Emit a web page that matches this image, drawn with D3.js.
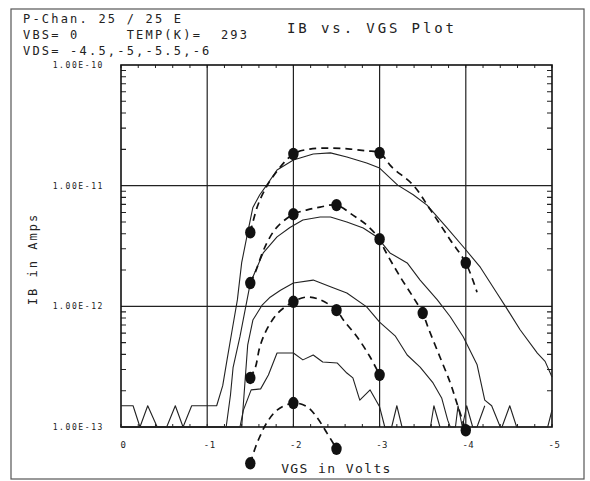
<!DOCTYPE html>
<html>
<head>
<meta charset="utf-8">
<script src="https://cdn.jsdelivr.net/npm/d3@7"></script>
<style>
  body { margin: 0; background: #fff; }
  text { font-family: "DejaVu Sans Mono", "Liberation Mono", monospace; fill: #222; }
</style>
</head>
<body>
<svg id="chart" width="590" height="481"></svg>
<script>
// header / labels
const headerLines = ["P-Chan. 25 / 25 E", "VBS= 0     TEMP(K)=  293", "VDS= -4.5,-5,-5.5,-6"];
const titleText = "IB vs. VGS Plot";
const xTicks = [0, -1, -2, -3, -4, -5];
const yTicks = [1e-10, 1e-11, 1e-12, 1e-13];

// measured curves [VGS, IB], one per VDS
const measured_6 = [[0,1.5e-13],[-0.14,1.5e-13],[-0.22,1e-13],[-0.31,1.5e-13],[-0.42,1e-13],[-0.53,1e-13],[-0.63,1.5e-13],[-0.72,1e-13],[-0.82,1.5e-13],[-1.11,1.5e-13],[-1.18,2.2e-13],[-1.23,3.6e-13],[-1.29,6.4e-13],[-1.35,1.13e-12],[-1.40,2.3e-12],[-1.47,4.1e-12],[-1.53,6.6e-12],[-1.61,8.4e-12],[-1.69,1.01e-11],[-1.81,1.35e-11],[-2.0,1.63e-11],[-2.23,1.83e-11],[-2.43,1.87e-11],[-2.62,1.73e-11],[-2.85,1.54e-11],[-3.0,1.40e-11],[-3.21,1.01e-11],[-3.39,8.4e-12],[-3.55,6.9e-12],[-3.78,4.5e-12],[-3.99,3.0e-12],[-4.17,2.1e-12],[-4.36,1.29e-12],[-4.46,1.0e-12],[-4.63,6.4e-13],[-4.83,4.1e-13],[-4.92,3.5e-13],[-5.0,2.6e-13]];
const measured_55 = [[0,1e-13],[-1.22,1e-13],[-1.27,1.84e-13],[-1.30,3.1e-13],[-1.38,5.6e-13],[-1.5,1.56e-12],[-1.65,2.77e-12],[-1.81,3.76e-12],[-1.96,4.5e-12],[-2.11,5.2e-12],[-2.31,5.5e-12],[-2.43,5.5e-12],[-2.62,5.0e-12],[-2.81,4.46e-12],[-2.97,3.76e-12],[-3.12,2.77e-12],[-3.32,2.29e-12],[-3.47,1.65e-12],[-3.67,1.13e-12],[-3.82,8.2e-13],[-3.97,5.6e-13],[-4.13,3.3e-13],[-4.22,1.67e-13],[-4.30,1.5e-13],[-4.40,1e-13],[-4.42,1e-13],[-4.51,1.5e-13],[-4.59,1e-13],[-4.95,1e-13],[-5.0,1.38e-13]];
const measured_5 = [[0,1e-13],[-1.40,1e-13],[-1.44,2.45e-13],[-1.47,4.8e-13],[-1.53,7.7e-13],[-1.64,1.03e-12],[-1.73,1.19e-12],[-1.85,1.36e-12],[-2.0,1.56e-12],[-2.23,1.65e-12],[-2.43,1.45e-12],[-2.62,1.29e-12],[-2.85,9.9e-13],[-3.0,7.4e-13],[-3.18,5.7e-13],[-3.32,3.95e-13],[-3.47,3.14e-13],[-3.62,2.32e-13],[-3.72,1.74e-13],[-3.79,1.14e-13],[-3.82,1e-13],[-3.88,1e-13],[-3.91,1.5e-13],[-3.96,1e-13],[-4.01,1.5e-13],[-4.08,1e-13],[-4.13,1e-13],[-4.22,1.5e-13]];
const measured_45 = [[0,1e-13],[-1.38,1e-13],[-1.42,1.38e-13],[-1.51,2.03e-13],[-1.62,2.07e-13],[-1.71,2.7e-13],[-1.81,4.1e-13],[-2.0,4.1e-13],[-2.11,3.6e-13],[-2.23,3.95e-13],[-2.34,3.46e-13],[-2.51,3.39e-13],[-2.62,2.8e-13],[-2.69,2.55e-13],[-2.77,1.67e-13],[-2.89,2.03e-13],[-3.0,1.47e-13],[-3.06,1e-13],[-3.14,1e-13],[-3.20,1.5e-13],[-3.26,1e-13],[-3.59,1e-13],[-3.63,1.5e-13],[-3.70,1e-13]];

// model curves (dashed) and their points
const model_6 = [[-1.5,4.1e-12],[-1.58,6.65e-12],[-1.65,8.7e-12],[-1.76,1.18e-11],[-2,1.83e-11],[-2.19,2.01e-11],[-2.43,2.05e-11],[-2.66,2.01e-11],[-2.85,1.94e-11],[-3,1.87e-11],[-3.14,1.43e-11],[-3.39,1.01e-11],[-3.59,6.3e-12],[-3.82,3.55e-12],[-4,2.29e-12],[-4.13,1.31e-12]];
const model_55 = [[-1.5,1.56e-12],[-1.56,1.93e-12],[-1.64,2.77e-12],[-1.71,3.55e-12],[-1.81,4.54e-12],[-2,5.8e-12],[-2.16,6.3e-12],[-2.31,6.65e-12],[-2.5,6.9e-12],[-2.69,5.7e-12],[-2.85,4.72e-12],[-3,3.6e-12],[-3.06,2.93e-12],[-3.24,1.75e-12],[-3.39,1.19e-12],[-3.5,8.8e-13],[-3.56,6.75e-13],[-3.70,3.8e-13],[-3.82,2.32e-13],[-3.91,1.47e-13],[-4,9.4e-14]];
const model_5 = [[-1.5,2.55e-13],[-1.56,3.14e-13],[-1.61,4.6e-13],[-1.69,6.4e-13],[-1.82,8.8e-13],[-2,1.09e-12],[-2.14,1.19e-12],[-2.29,1.15e-12],[-2.5,9.3e-13],[-2.58,7.7e-13],[-2.74,5.57e-13],[-2.89,3.8e-13],[-3,2.7e-13]];
const model_45 = [[-1.5,5.0e-14],[-1.56,6.8e-14],[-1.61,8.3e-14],[-1.69,1.08e-13],[-1.81,1.38e-13],[-2,1.58e-13],[-2.16,1.47e-13],[-2.27,1.21e-13],[-2.39,8.9e-14],[-2.5,6.6e-14]];

const dots_6 = [[-1.5,4.1e-12],[-2,1.83e-11],[-3,1.87e-11],[-4,2.29e-12]];
const dots_55 = [[-1.5,1.56e-12],[-2,5.8e-12],[-2.5,6.9e-12],[-3,3.6e-12],[-3.5,8.8e-13],[-4,9.4e-14]];
const dots_5 = [[-1.5,2.55e-13],[-2,1.09e-12],[-2.5,9.3e-13],[-3,2.7e-13]];
const dots_45 = [[-1.5,5.0e-14],[-2,1.58e-13],[-2.5,6.6e-14]];

const margin = { top: 65, left: 121 };
const width = 431, height = 362;

const svg = d3.select("#chart");

// outer frame
svg.append("rect")
  .attr("x", 11).attr("y", 9).attr("width", 573).attr("height", 470)
  .attr("fill", "none").attr("stroke", "#555").attr("stroke-width", 1.2);

const g = svg.append("g").attr("transform", `translate(${margin.left},${margin.top})`);

const x = d3.scaleLinear().domain([0, -5]).range([0, width]);
const y = d3.scaleLog().domain([1e-10, 1e-13]).range([0, height]);

// grid
g.selectAll(".vgrid").data(xTicks.slice(1, -1)).enter().append("line")
  .attr("x1", d => x(d)).attr("x2", d => x(d)).attr("y1", 0).attr("y2", height)
  .attr("stroke", "#222").attr("stroke-width", 1.2);
g.selectAll(".hgrid").data(yTicks.slice(1, -1)).enter().append("line")
  .attr("x1", 0).attr("x2", width).attr("y1", d => y(d)).attr("y2", d => y(d))
  .attr("stroke", "#222").attr("stroke-width", 1.4);

// minor ticks
const minorY = [];
[-13, -12, -11].forEach(p => { for (let k = 2; k <= 9; k++) minorY.push(k * Math.pow(10, p)); });
const minorX = d3.range(0, 26).map(i => -i * 0.2);

g.selectAll(".my").data(minorY).enter().append("path")
  .attr("d", d => `M0,${y(d)}h5M${width},${y(d)}h-5`)
  .attr("stroke", "#222").attr("stroke-width", 1.1);
g.selectAll(".mx").data(minorX).enter().append("path")
  .attr("d", d => `M${x(d)},0v3M${x(d)},${height}v-3`)
  .attr("stroke", "#222").attr("stroke-width", 1);

// frame of plot
g.append("rect").attr("width", width).attr("height", height)
  .attr("fill", "none").attr("stroke", "#111").attr("stroke-width", 1.6);

// axes labels
const yAxis = g.append("g")
  .call(d3.axisLeft(y).tickValues(yTicks).tickSize(0).tickPadding(17)
    .tickFormat(d => "1.00E" + Math.round(Math.log10(d))));
yAxis.select(".domain").remove();
yAxis.selectAll("text").style("font-size", "8px").style("letter-spacing", "1.6px")
  .style("font-family", "'DejaVu Sans Mono', monospace").attr("fill", "#222");

const xAxis = g.append("g").attr("transform", `translate(0,${height})`)
  .call(d3.axisBottom(x).tickValues(xTicks).tickSize(0).tickPadding(15)
    .tickFormat(d => String(d)));
xAxis.select(".domain").remove();
xAxis.selectAll("text").style("font-size", "9px").style("letter-spacing", "0.5px")
  .style("font-family", "'DejaVu Sans Mono', monospace").attr("fill", "#222")
  .attr("dx", "2px");

// curves
const line = d3.line().x(d => x(d[0])).y(d => y(d[1]));
const smooth = d3.line().x(d => x(d[0])).y(d => y(d[1])).curve(d3.curveCatmullRom);

[measured_6, measured_55, measured_5, measured_45].forEach(s => {
  g.append("path").datum(s).attr("d", line)
    .attr("fill", "none").attr("stroke", "#222").attr("stroke-width", 1.1)
    .attr("stroke-linejoin", "round");
});
[model_6, model_55, model_5, model_45].forEach(s => {
  g.append("path").datum(s).attr("d", smooth)
    .attr("fill", "none").attr("stroke", "#111").attr("stroke-width", 1.7)
    .attr("stroke-dasharray", "7,5");
});
[dots_6, dots_55, dots_5, dots_45].forEach(s => {
  g.selectAll(null).data(s).enter().append("ellipse")
    .attr("cx", d => x(d[0])).attr("cy", d => y(d[1]))
    .attr("rx", 5.2).attr("ry", 6.2).attr("fill", "#111");
});

// texts
svg.selectAll(".hdr").data(headerLines).enter().append("text")
  .attr("x", 23).attr("y", (d, i) => 23 + i * 16)
  .attr("xml:space", "preserve").style("white-space", "pre")
  .style("font-size", "12px").style("letter-spacing", "2.2px")
  .text(d => d);

svg.append("text").attr("x", 287).attr("y", 33)
  .style("font-size", "14px").style("letter-spacing", "2.9px")
  .text(titleText);

svg.append("text").attr("x", margin.left + width / 2).attr("y", 473)
  .attr("text-anchor", "middle")
  .style("font-size", "13px").style("letter-spacing", "1.4px")
  .text("VGS in Volts");

svg.append("text").attr("transform", "translate(37,259) rotate(-90)")
  .attr("text-anchor", "middle")
  .style("font-size", "12px").style("letter-spacing", "2px")
  .text("IB in Amps");
</script>
</body>
</html>
